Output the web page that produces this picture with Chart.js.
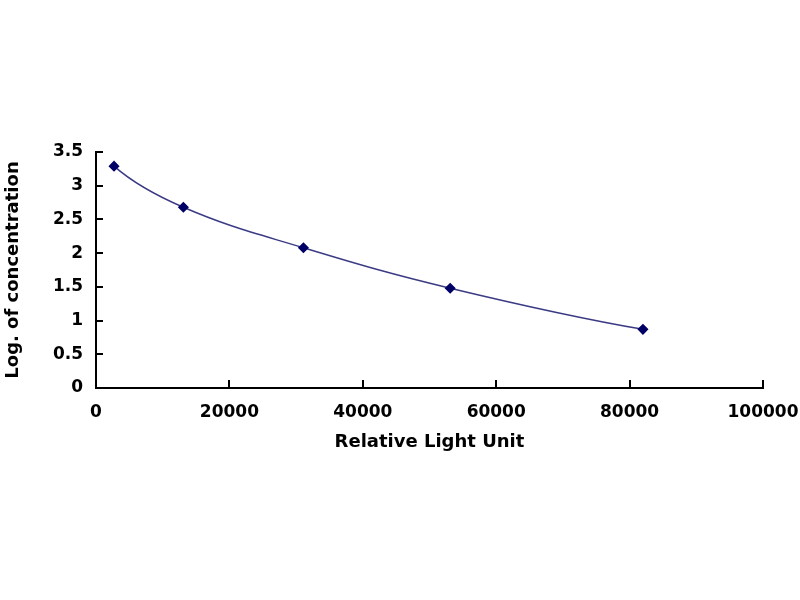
<!DOCTYPE html>
<html>
<head>
<meta charset="utf-8">
<script src="https://cdn.jsdelivr.net/npm/chart.js@4"></script>
<style>
  html, body { margin: 0; padding: 0; background: #fff; }
  #wrap { width: 800px; height: 600px; }
</style>
</head>
<body>
<div id="wrap"><canvas id="curve" width="800" height="600"></canvas></div>
<script>
// standard curve points
const lightUnits = [2700, 13100, 31100, 53100, 82000];
const logConc = [3.29, 2.68, 2.08, 1.48, 0.87];
const xTicks = [0, 20000, 40000, 60000, 80000, 100000];
const yTicks = [0, 0.5, 1, 1.5, 2, 2.5, 3, 3.5];

const tickFont = { family: 'DejaVu Sans', size: 17, weight: 'bold' };
const titleFont = { family: 'DejaVu Sans', size: 18, weight: 'bold' };

// Excel-style tick marks pointing into the plot
const innerTicks = {
    id: 'innerTicks',
    afterDraw(chart) {
        const c = chart.ctx;
        const xs = chart.scales.x, ys = chart.scales.y;
        c.save();
        c.strokeStyle = '#000';
        c.lineWidth = 2;
        c.beginPath();
        xTicks.slice(1).forEach(v => {
            const px = Math.round(xs.getPixelForValue(v));
            c.moveTo(px, ys.bottom);
            c.lineTo(px, ys.bottom - 8);
        });
        yTicks.slice(1).forEach(v => {
            const py = Math.round(ys.getPixelForValue(v));
            c.moveTo(xs.left, py);
            c.lineTo(xs.left + 7, py);
        });
        c.stroke();
        c.restore();
    }
};

// parabolic end segments, so the curve leaves the first point steeper (like Excel smoothing)
const smoothEnds = {
    id: 'smoothEnds',
    beforeDatasetsDraw(chart) {
        const meta = chart.getDatasetMeta(0);
        const line = meta.dataset;
        const pts = meta.data;
        if (!line || pts.length < 3) return;
        line.updateControlPoints(chart.chartArea);
        const a = pts[0], b = pts[1];
        let qx = b.x + 1.5 * (b.cp1x - b.x), qy = b.y + 1.5 * (b.cp1y - b.y);
        a.cp2x = a.x + (qx - a.x) * 2 / 3;
        a.cp2y = a.y + (qy - a.y) * 2 / 3;
        const n = pts.length;
        const c = pts[n - 2], d = pts[n - 1];
        qx = c.x + 1.5 * (c.cp2x - c.x); qy = c.y + 1.5 * (c.cp2y - c.y);
        d.cp1x = d.x + (qx - d.x) * 2 / 3;
        d.cp1y = d.y + (qy - d.y) * 2 / 3;
        line._path = undefined;
    }
};

new Chart(document.getElementById('curve').getContext('2d'), {
    type: 'line',
    data: {
        datasets: [{
            data: lightUnits.map((x, i) => ({ x: x, y: logConc[i] })),
            borderColor: '#3b3b85',
            borderWidth: 1.5,
            tension: 0.4,
            pointStyle: 'rectRot',
            pointRadius: 4.5,
            pointBackgroundColor: '#000066',
            pointBorderColor: '#000066',
            fill: false
        }]
    },
    options: {
        responsive: false,
        animation: false,
        layout: { padding: { top: 152, right: 37, left: 0, bottom: 0 } },
        plugins: { legend: { display: false }, tooltip: { enabled: false } },
        scales: {
            x: {
                type: 'linear',
                min: 0, max: 100000,
                afterBuildTicks: s => { s.ticks = xTicks.map(v => ({ value: v })); },
                afterFit: s => { s.height = 212; s.paddingLeft = 0; s.paddingRight = 0; },
                grid: { display: false, drawTicks: false },
                border: { display: true, color: '#000', width: 2 },
                ticks: { color: '#000', font: tickFont, padding: 14, maxRotation: 0, callback: v => String(v) },
                title: { display: true, text: 'Relative Light Unit', color: '#000', font: titleFont, padding: { top: 0, bottom: 147 } }
            },
            y: {
                type: 'linear',
                min: 0, max: 3.5,
                afterBuildTicks: s => { s.ticks = yTicks.map(v => ({ value: v })); },
                afterFit: s => { s.width = 96; s.paddingTop = 0; s.paddingBottom = 0; },
                grid: { display: false, drawTicks: false },
                border: { display: true, color: '#000', width: 2 },
                ticks: { color: '#000', font: tickFont, padding: 13, callback: v => String(v) },
                title: { display: true, text: 'Log. of concentration', color: '#000', font: titleFont, padding: { top: 3, bottom: 0 } }
            }
        }
    },
    plugins: [innerTicks, smoothEnds]
});
</script>
</body>
</html>
